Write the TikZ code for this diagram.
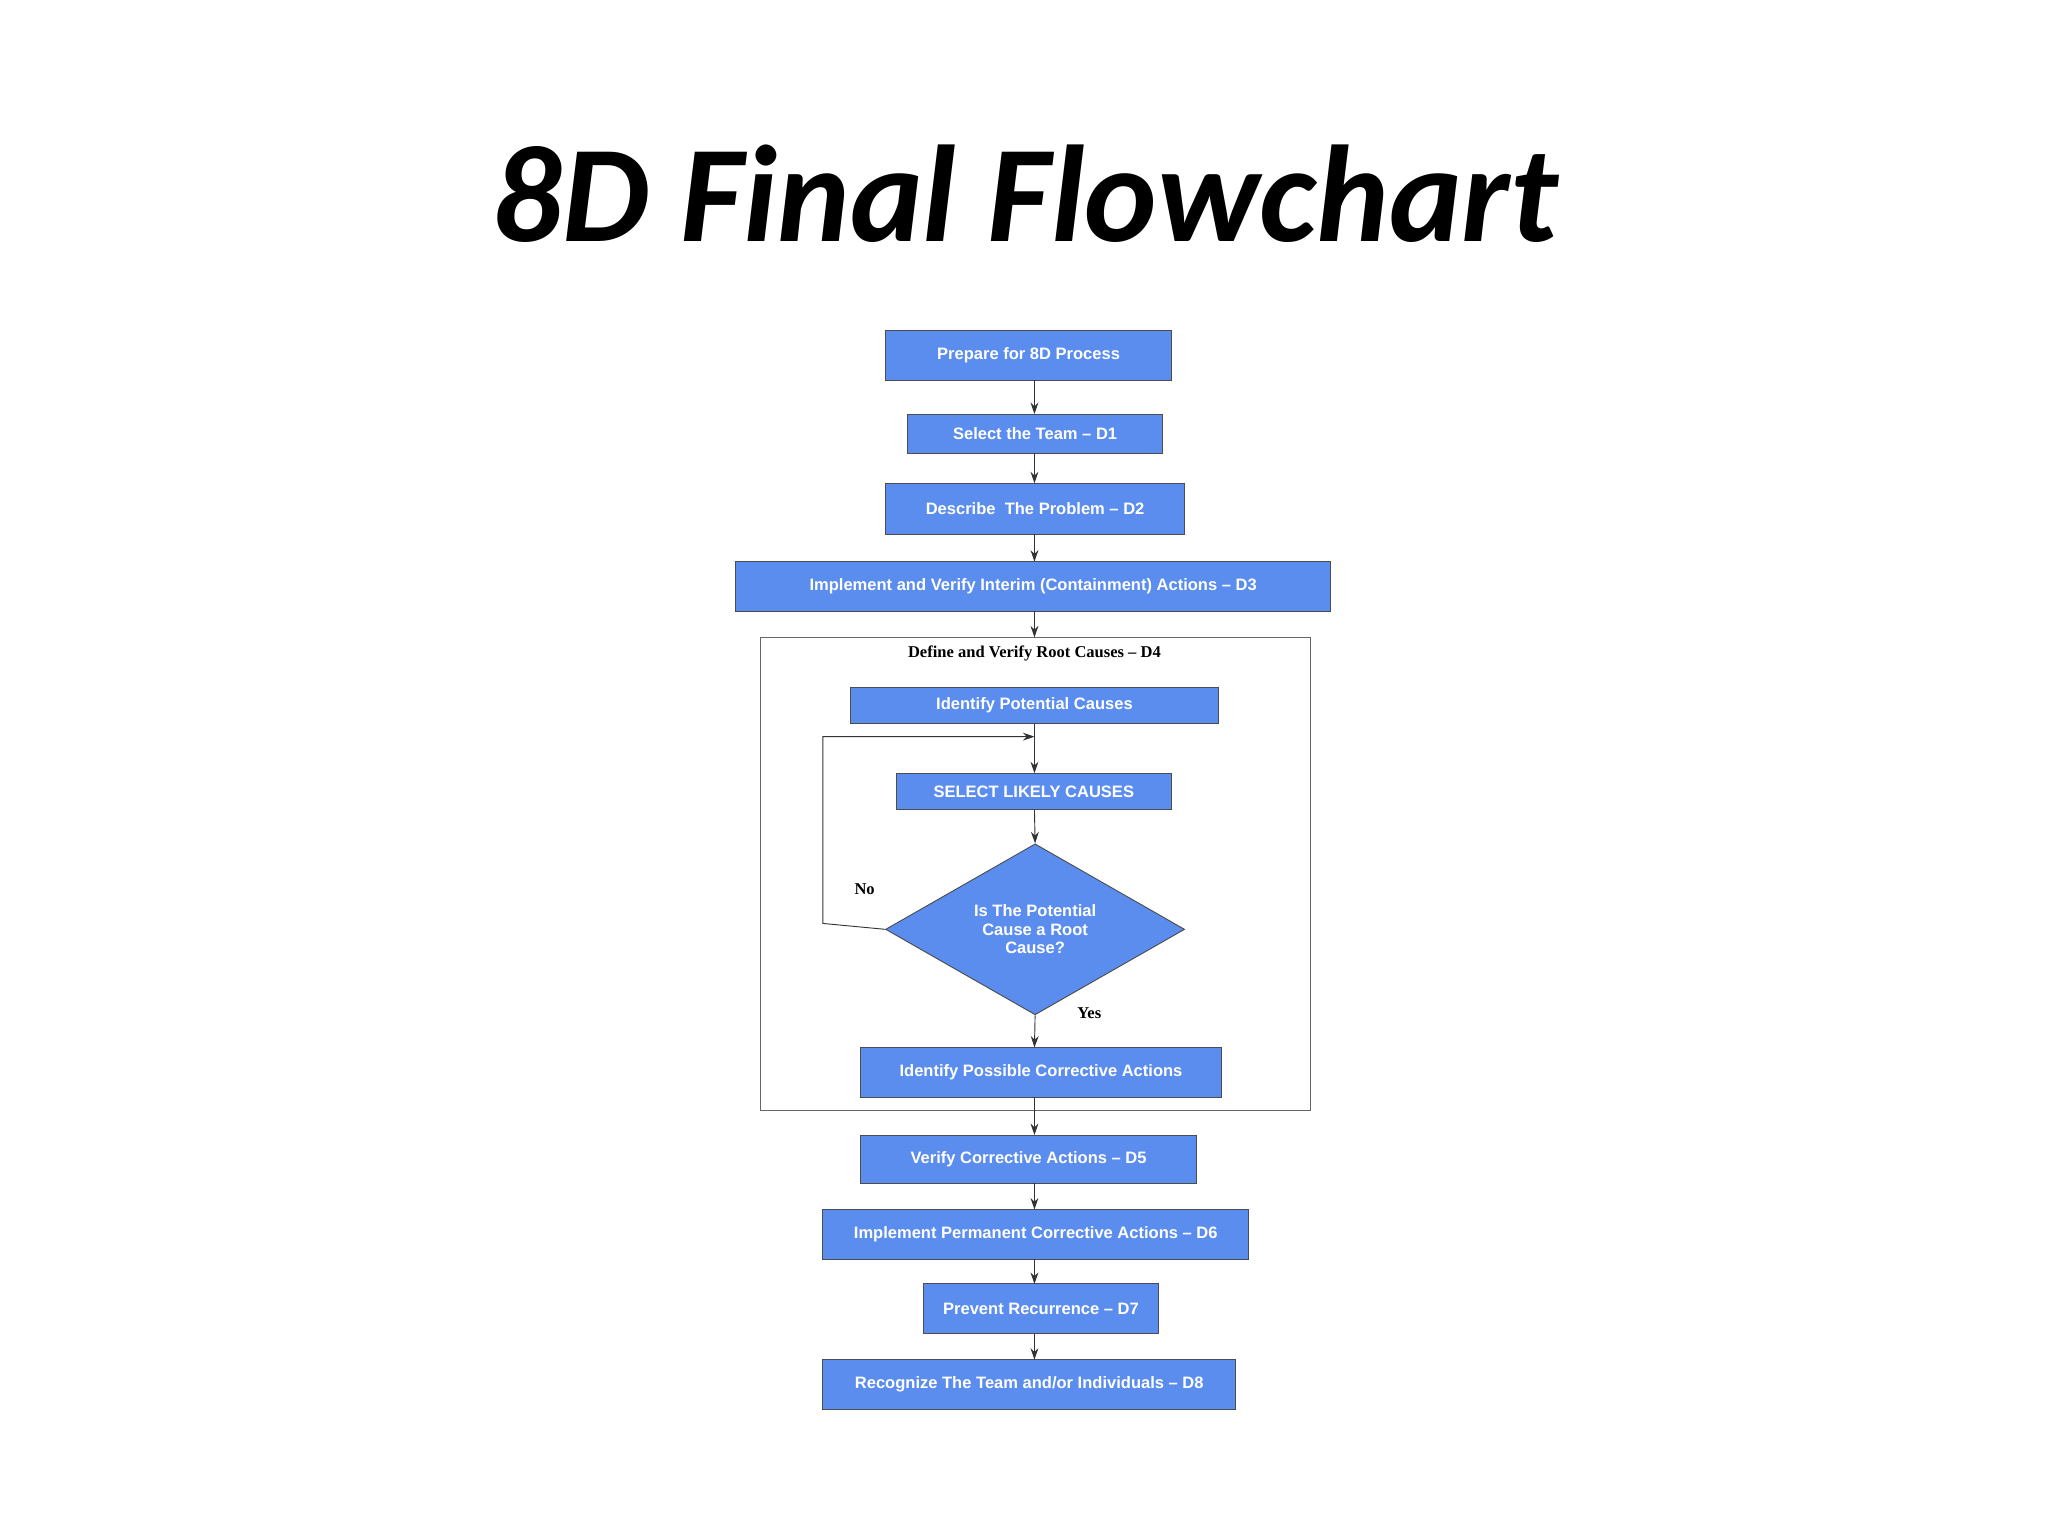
\documentclass[tikz,border=0pt]{standalone}
\usepackage{fontspec}
\setmainfont{Liberation Serif}
\setsansfont{Liberation Sans}
\newfontfamily\titlefont{Carlito}
\usetikzlibrary{arrows.meta,shapes.geometric}
\definecolor{bxblue}{HTML}{5B8DEF}
\begin{document}
\begin{tikzpicture}[x=0.25mm,y=-0.25mm,
  bx/.style 2 args={draw=black!70,line width=0.5pt,fill=bxblue,inner sep=0pt,
    minimum width={#1*0.25mm},minimum height={#2*0.25mm},
    font=\sffamily\bfseries\fontsize{9}{10}\selectfont,text=white},
  arr/.style={-{Stealth[length=2.2mm,width=1.5mm]},line width=0.5pt,black!80}]
\useasboundingbox (0,0) rectangle (1568,1176);
\node (title) at (785,148) {\titlefont\bfseries\itshape\fontsize{75}{80}\selectfont 8D Final Flowchart};
\node[bx={219}{38}] (p) at (787.5,272) {Prepare for 8D Process};
\node[bx={195}{30}] (d1) at (792.5,332) {Select the Team -- D1};
\node[bx={229}{39}] (d2) at (792.5,389.5) {Describe\ \ The Problem -- D2};
\node[bx={456}{38}] (d3) at (791,449) {Implement and Verify Interim (Containment) Actions -- D3};
\node[draw=black!60,line width=0.5pt,minimum width={421*0.25mm},minimum height={362*0.25mm},inner sep=0pt] (fr) at (792.5,669) {};
\node[font=\bfseries\fontsize{9}{10}\selectfont] (frl) at (792,500) {Define and\ Verify Root Causes -- D4};
\node[bx={282}{28}] (ipc) at (792,540) {Identify Potential Causes};
\node[bx={211}{28}] (slc) at (791.5,606) {SELECT LIKELY CAUSES};
\node[diamond,draw=black!70,fill=bxblue,line width=0.5pt,inner sep=0pt,minimum width={229*0.25mm},minimum height={123*0.25mm},align=center,
  font=\sffamily\bfseries\fontsize{9}{10}\selectfont,text=white] (dia) at (792.5,711.5) {Is The Potential\\Cause a Root\\Cause?};
\node[bx={276}{38}] (ipa) at (797,821) {Identify Possible Corrective Actions};
\node[bx={257}{37}] (d5) at (787.5,887.5) {Verify Corrective Actions -- D5};
\node[bx={326}{38}] (d6) at (793,945) {Implement Permanent Corrective Actions -- D6};
\node[bx={180}{38}] (d7) at (797,1002) {Prevent Recurrence -- D7};
\node[bx={316}{38}] (d8) at (788,1060) {Recognize The Team and/or Individuals -- D8};
\draw[arr] (792,291) -- (792,317);
\draw[arr] (792,347) -- (792,370);
\draw[arr] (792,409) -- (792,430);
\draw[arr] (792,468) -- (792,488);
\coordinate (j) at (792,564);
\draw[line width=0.5pt,black!80] (792,554) -- (j);
\draw[arr] (j) -- (792,592);
\draw[arr] (792,620) -- (dia.north);
\draw[arr] (dia.south) -- (792,802);
\draw[line width=0.5pt,black!80] (792,840) -- (792,850);
\draw[arr] (792,850) -- (792,869);
\draw[arr] (792,906) -- (792,926);
\draw[arr] (792,964) -- (792,983);
\draw[arr] (792,1021) -- (792,1041);
\draw[arr] (dia.west) -- (630,707) -- (630,564) -- (j);
\node[font=\bfseries\fontsize{9}{10}\selectfont] (no) at (662,681) {No};
\node[font=\bfseries\fontsize{9}{10}\selectfont] (yes) at (834,776) {Yes};
\end{tikzpicture}
\end{document}
